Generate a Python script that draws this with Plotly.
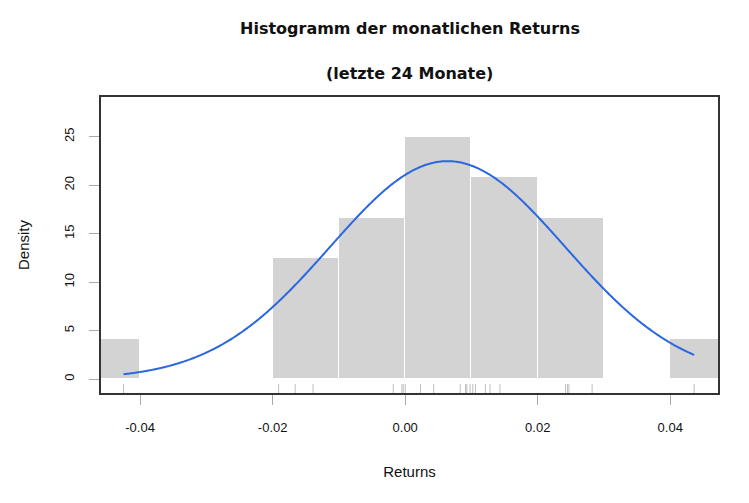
import numpy as np
import plotly.graph_objects as go

# Monthly returns (last 24 months)
returns = [-0.0425, -0.0191, -0.0166, -0.0139, -0.0018, -0.0005, -0.0003, 0.0000,
           0.0023, 0.0043, 0.0083, 0.0091, 0.0093, 0.0098,
           0.0102, 0.0106, 0.0121, 0.0128, 0.0143,
           0.0242, 0.0245, 0.0247, 0.0282, 0.0436]
bin_edges = [-0.05, -0.04, -0.03, -0.02, -0.01, 0.0, 0.01, 0.02, 0.03, 0.04, 0.05]
x_ticks = [-0.04, -0.02, 0.0, 0.02, 0.04]
x_ticklabels = ["-0.04", "-0.02", "0.00", "0.02", "0.04"]
y_ticks = [0, 5, 10, 15, 20, 25]

r = np.array(returns)
n = len(r)
edges = np.array(bin_edges)
lo, hi = edges[:-1], edges[1:]
counts = np.array([np.sum((r > a) & (r <= b)) for a, b in zip(lo, hi)])
widths = hi - lo
density = counts / (n * widths)
centers = (lo + hi) / 2

mu, sd = r.mean(), r.std(ddof=1)
xc = np.linspace(r.min(), r.max(), 400)
yc = np.exp(-0.5 * ((xc - mu) / sd) ** 2) / (sd * np.sqrt(2 * np.pi))

fig = go.Figure()
fig.add_trace(go.Bar(x=centers, y=density, width=widths,
                     marker=dict(color="#d3d3d3", line=dict(color="white", width=1)),
                     hoverinfo="skip"))
fig.add_trace(go.Scatter(x=xc, y=yc, mode="lines",
                         line=dict(color="#2a67e0", width=2, shape="spline"), hoverinfo="skip"))

for v in returns:
    fig.add_shape(type="line", xref="x", yref="y domain", x0=v, x1=v, y0=0, y1=0.03,
                  line=dict(color="#bdbdbd", width=1))

font = "Liberation Sans, Arial, Helvetica, sans-serif"
tfont = "DejaVu Sans, Liberation Sans, sans-serif"
fig.update_layout(
    width=749, height=503,
    margin=dict(l=101, r=31, t=97, b=110),
    paper_bgcolor="white", plot_bgcolor="white",
    showlegend=False, bargap=0,
    font=dict(family=font, color="#111111", size=13),
    annotations=[
        dict(text="<b>Histogramm der monatlichen Returns</b>", xref="paper", yref="paper",
             x=0.5, y=1, yshift=69, xanchor="center", yanchor="middle", showarrow=False,
             font=dict(size=16, family=tfont, color="#111111")),
        dict(text="<b>(letzte 24 Monate)</b>", xref="paper", yref="paper",
             x=0.5, y=1, yshift=24, xanchor="center", yanchor="middle", showarrow=False,
             font=dict(size=16, family=tfont, color="#111111")),
    ],
)
fig.update_xaxes(range=[-0.0459, 0.0472], tickvals=x_ticks, ticktext=x_ticklabels,
                 ticks="outside", ticklen=10, tickcolor="#aaaaaa", tickwidth=1,
                 showgrid=False, zeroline=False,
                 showline=True, mirror=True, linecolor="#333333", linewidth=2,
                 ticklabelstandoff=11,
                 title=dict(text="Returns", font=dict(size=15), standoff=33))
fig.update_yaxes(range=[-1.43, 29.1], tickvals=y_ticks, tickangle=-90,
                 ticks="outside", ticklen=10, tickcolor="#aaaaaa", tickwidth=1,
                 showgrid=False, zeroline=False,
                 showline=True, mirror=True, linecolor="#333333", linewidth=2,
                 ticklabelstandoff=10,
                 title=dict(text="Density", font=dict(size=15), standoff=29))

fig.write_html("out.html", config={"displayModeBar": False},
               post_script="document.body.style.margin='0';")
